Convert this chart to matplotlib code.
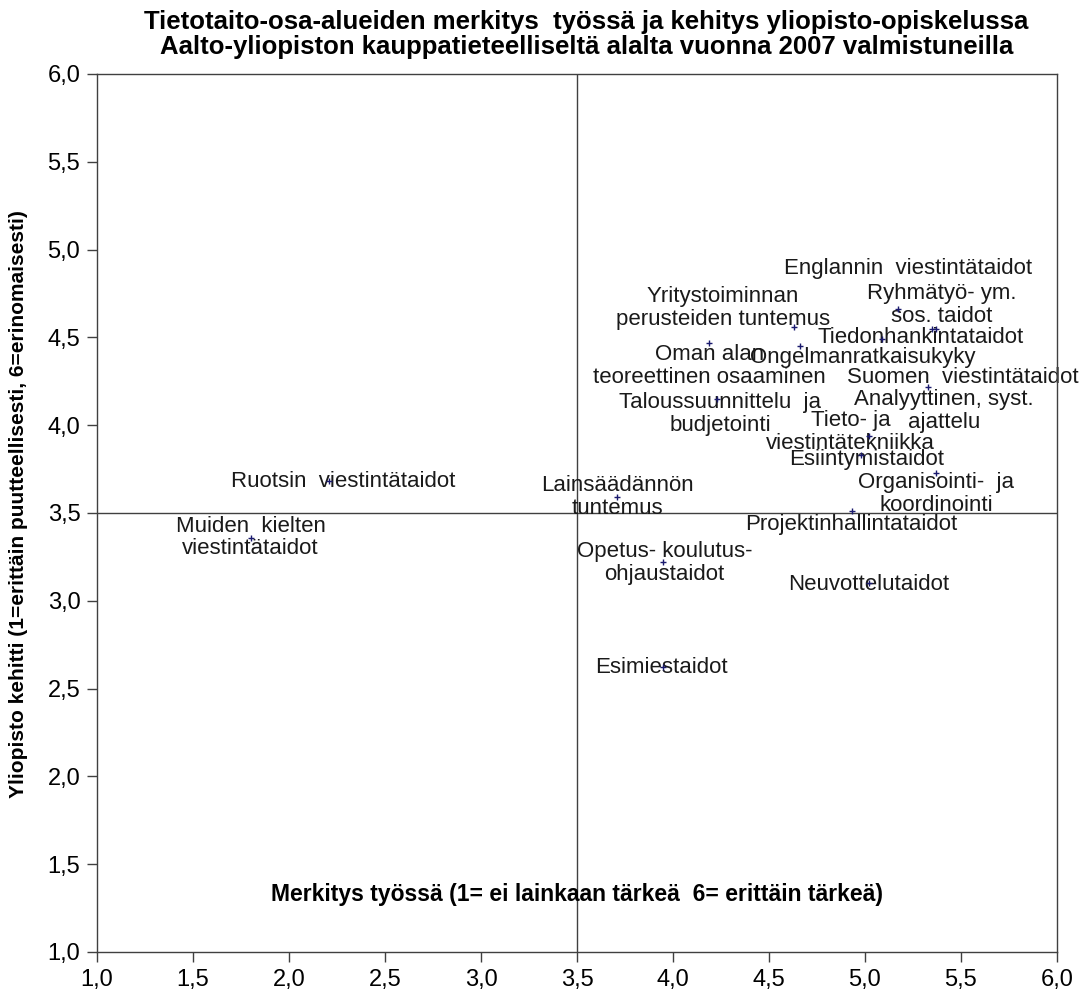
import matplotlib
matplotlib.use("Agg")
import matplotlib.pyplot as plt
from matplotlib.ticker import FuncFormatter

plt.rcParams['font.family'] = ['Liberation Sans', 'DejaVu Sans']

# skill areas: importance at work (x) vs. how well the university developed them (y)
skills = [
    "Englannin  viestintätaidot",
    "Ryhmätyö- ym.\nsos. taidot",
    "Analyyttinen, syst.\najattelu",
    "Tiedonhankintataidot",
    "Yritystoiminnan\nperusteiden tuntemus",
    "Ongelmanratkaisukyky",
    "Oman alan\nteoreettinen osaaminen",
    "Suomen  viestintätaidot",
    "Taloussuunnittelu  ja\nbudjetointi",
    "Tieto- ja\nviestintätekniikka",
    "Esiintymistaidot",
    "Organisointi-  ja\nkoordinointi",
    "Projektinhallintataidot",
    "Neuvottelutaidot",
    "Lainsäädännön\ntuntemus",
    "Opetus- koulutus-\nohjaustaidot",
    "Esimiestaidot",
    "Ruotsin  viestintätaidot",
    "Muiden  kielten\nviestintätaidot",
]
importance = [5.17, 5.35, 5.37, 5.09, 4.63, 4.66, 4.19, 5.33, 4.23, 5.02, 4.98,
              5.37, 4.93, 5.02, 3.71, 3.95, 3.95, 2.21, 1.80]
development = [4.66, 4.55, 4.55, 4.49, 4.56, 4.45, 4.47, 4.22, 4.15, 3.94, 3.83,
               3.73, 3.51, 3.10, 3.59, 3.22, 2.62, 3.68, 3.36]

# label offsets from each point (pixels), mimicking the hand-placed Excel labels
label_offsets = [(10, 41), (10, 24), (8, -82), (38, 2), (-71, 19), (63, -11),
                 (0, -23), (34, 9), (3, -15), (-18, 4), (5, -4), (0, -21),
                 (0, -13), (0, -1), (0, 0), (1, -1), (-2, 0), (14, 0), (0, 0)]

midpoint = 3.5

fig = plt.figure(figsize=(10.9, 9.94), dpi=100)
ax = fig.add_axes([0.089, 0.0423, 0.8807, 0.8833])

ax.axhline(midpoint, color="#404040", lw=1.0, zorder=1)
ax.axvline(midpoint, color="#404040", lw=1.0, zorder=1)

ax.scatter(importance, development, marker="+", s=18, color="#1a1a6e",
           linewidths=1.0, zorder=3)

for name, x, y, (dx, dy) in zip(skills, importance, development, label_offsets):
    ax.annotate(name, (x, y), xytext=(dx, dy), textcoords="offset pixels",
                ha="center", va="center", fontsize=16, color="#1a1a1a",
                linespacing=1.12, zorder=2)

ax.set_xlim(1.0, 6.0)
ax.set_ylim(1.0, 6.0)
ticks = [1.0, 1.5, 2.0, 2.5, 3.0, 3.5, 4.0, 4.5, 5.0, 5.5, 6.0]
ax.set_xticks(ticks)
ax.set_yticks(ticks)
comma = FuncFormatter(lambda v, p: f"{v:.1f}".replace(".", ","))
ax.xaxis.set_major_formatter(comma)
ax.yaxis.set_major_formatter(comma)
ax.tick_params(direction="out", length=7, width=1, color="#404040",
               labelsize=17, pad=5)
for s in ax.spines.values():
    s.set_color("#404040")
    s.set_linewidth(1.0)

ax.set_ylabel("Yliopisto kehitti (1=erittäin puutteellisesti, 6=erinomaisesti)",
              fontsize=15, fontweight="bold")
ax.yaxis.set_label_coords(-0.072, 0.51)
ax.text(0.5, 0.065, "Merkitys työssä (1= ei lainkaan tärkeä  6= erittäin tärkeä)",
        transform=ax.transAxes, ha="center", va="center", fontsize=16.5,
        fontweight="bold")

fig.text(0.538, 0.99,
         "Tietotaito-osa-alueiden merkitys  työssä ja kehitys yliopisto-opiskelussa\n"
         "Aalto-yliopiston kauppatieteelliseltä alalta vuonna 2007 valmistuneilla",
         ha="center", va="top", fontsize=18.5, fontweight="bold",
         linespacing=1.05)

fig.savefig("out.png", dpi=100)
